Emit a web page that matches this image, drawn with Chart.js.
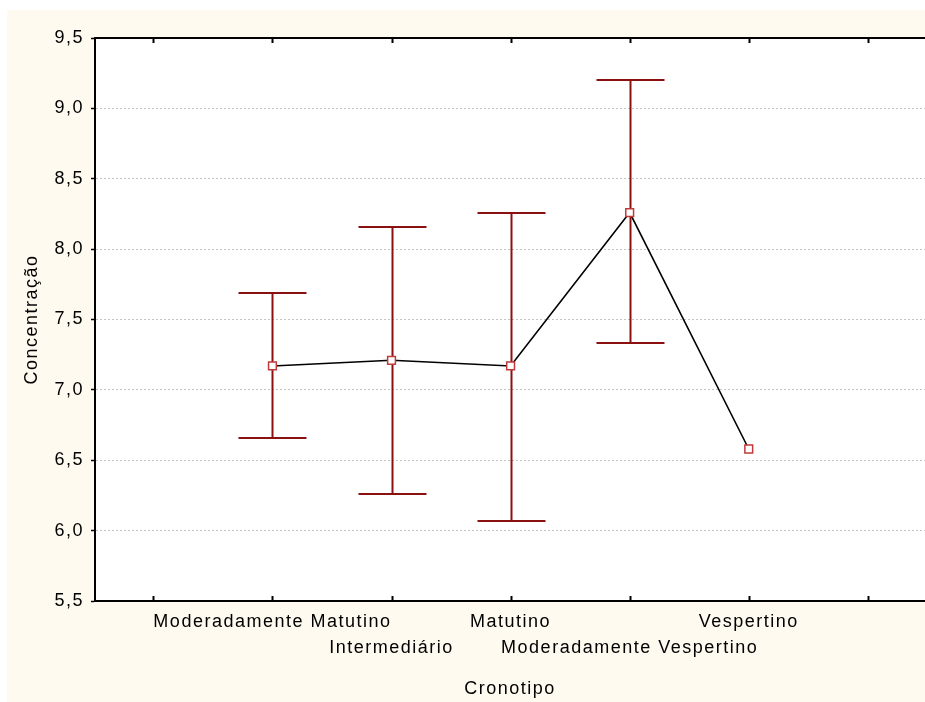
<!DOCTYPE html>
<html>
<head>
<meta charset="utf-8">
<script src="https://cdn.jsdelivr.net/npm/chart.js@4.4.1/dist/chart.umd.min.js"></script>
<style>
  html, body { margin: 0; padding: 0; background: #ffffff; overflow: hidden; }
  #wrap { width: 925px; height: 702px; }
</style>
</head>
<body>
<div id="wrap"><canvas id="chart"></canvas></div>
<script>
// data
const categories = ['Moderadamente Matutino', 'Intermediário', 'Matutino', 'Moderadamente Vespertino', 'Vespertino'];
const means = [7.17, 7.21, 7.17, 8.26, 6.58];
const upper = [7.69, 8.16, 8.26, 9.20, null];
const lower = [6.66, 6.26, 6.07, 7.33, null];
const xTickValues = [-1, 0, 1, 2, 3, 4, 5];

const FONT = "'Liberation Sans', Arial, sans-serif";
const CREAM = '#fffaef';
const BAR_RED = '#8b1010';

// Statistica-like wide letter spacing
function setSpacing(chart) {
    chart.ctx.letterSpacing = '1.5px';
}

const framePlugin = {
    id: 'frame',
    beforeLayout: setSpacing,
    beforeDraw(chart) {
        const ctx = chart.ctx;
        const a = chart.chartArea;
        setSpacing(chart);
        ctx.save();
        ctx.fillStyle = '#ffffff';
        ctx.fillRect(0, 0, chart.width, chart.height);
        ctx.fillStyle = CREAM;
        ctx.fillRect(7, 10, chart.width - 7, chart.height - 10);
        ctx.fillStyle = '#ffffff';
        ctx.fillRect(a.left, a.top, a.right - a.left, a.bottom - a.top);
        ctx.restore();
    },
    beforeDatasetsDraw(chart) {
        // error bars under the line and markers
        const ctx = chart.ctx;
        const x = chart.scales.x;
        const y = chart.scales.y;
        const cap = 34;
        ctx.save();
        ctx.strokeStyle = BAR_RED;
        ctx.lineWidth = 2;
        categories.forEach((c, i) => {
            if (upper[i] == null || lower[i] == null) return;
            const px = Math.round(x.getPixelForValue(i)) + 0.5;
            const pt = Math.round(y.getPixelForValue(upper[i]));
            const pb = Math.round(y.getPixelForValue(lower[i]));
            ctx.beginPath();
            ctx.moveTo(px, pt);
            ctx.lineTo(px, pb);
            ctx.moveTo(px - cap, pt);
            ctx.lineTo(px + cap, pt);
            ctx.moveTo(px - cap, pb);
            ctx.lineTo(px + cap, pb);
            ctx.stroke();
        });
        ctx.restore();
    },
    afterDraw(chart) {
        // top frame line and inward x ticks
        const ctx = chart.ctx;
        const a = chart.chartArea;
        const x = chart.scales.x;
        ctx.save();
        ctx.strokeStyle = '#000000';
        ctx.lineWidth = 2;
        ctx.beginPath();
        ctx.moveTo(a.left - 1, a.top);
        ctx.lineTo(a.right, a.top);
        ctx.stroke();
        ctx.beginPath();
        xTickValues.forEach(v => {
            const px = Math.round(x.getPixelForValue(v)) + 0.5;
            ctx.moveTo(px, a.top);
            ctx.lineTo(px, a.top + 5);
            ctx.moveTo(px, a.bottom);
            ctx.lineTo(px, a.bottom - 5);
        });
        ctx.stroke();
        ctx.restore();
    }
};

new Chart(document.getElementById('chart'), {
    type: 'line',
    data: {
        datasets: [{
            data: means.map((m, i) => ({ x: i, y: m })),
            borderColor: '#000000',
            borderWidth: 1.6,
            tension: 0,
            pointStyle: 'rect',
            pointRadius: 5.5,
            pointBorderWidth: 1.5,
            pointBorderColor: '#c03a3a',
            pointBackgroundColor: '#ffffff'
        }]
    },
    options: {
        responsive: true,
        maintainAspectRatio: false,
        animation: false,
        layout: { autoPadding: false, padding: { top: 38, right: 0, left: 0, bottom: 0 } },
        plugins: {
            legend: { display: false },
            tooltip: { enabled: false }
        },
        scales: {
            x: {
                type: 'linear',
                min: -1.49,
                max: 5.48,
                afterFit(scale) {
                    scale.height = 101;
                    scale.paddingLeft = 0;
                    scale.paddingRight = 0;
                },
                afterBuildTicks(scale) { scale.ticks = xTickValues.map(v => ({ value: v })); },
                grid: { display: false, drawTicks: false },
                border: { color: '#000000', width: 2 },
                ticks: {
                    autoSkip: false,
                    maxRotation: 0,
                    padding: 8,
                    color: '#000000',
                    font: { family: FONT, size: 18, lineHeight: 1.45 },
                    callback(value) {
                        const c = categories[value];
                        if (c === undefined) return '';
                        return value % 2 === 0 ? [c, ''] : ['', c];
                    }
                },
                title: {
                    display: true,
                    text: 'Cronotipo',
                    color: '#000000',
                    font: { family: FONT, size: 18 },
                    padding: { top: 0, bottom: 2 }
                }
            },
            y: {
                min: 5.5,
                max: 9.5,
                afterFit(scale) { scale.width = 95; },
                ticks: {
                    stepSize: 0.5,
                    padding: 7,
                    color: '#000000',
                    font: { family: FONT, size: 18 },
                    callback: v => v.toFixed(1).replace('.', ',')
                },
                grid: {
                    color: ctx => (ctx.tick && (ctx.tick.value === 5.5 || ctx.tick.value === 9.5)) ? 'rgba(0,0,0,0)' : '#c4c4c4',
                    lineWidth: 1,
                    tickLength: 4,
                    tickColor: '#000000',
                    tickWidth: 1.5,
                    tickBorderDash: []
                },
                border: { color: '#000000', width: 2, dash: [2, 2] },
                title: {
                    display: true,
                    text: 'Concentração',
                    color: '#000000',
                    font: { family: FONT, size: 18 },
                    padding: { top: 21, bottom: 0 }
                }
            }
        }
    },
    plugins: [framePlugin]
});
</script>
</body>
</html>
